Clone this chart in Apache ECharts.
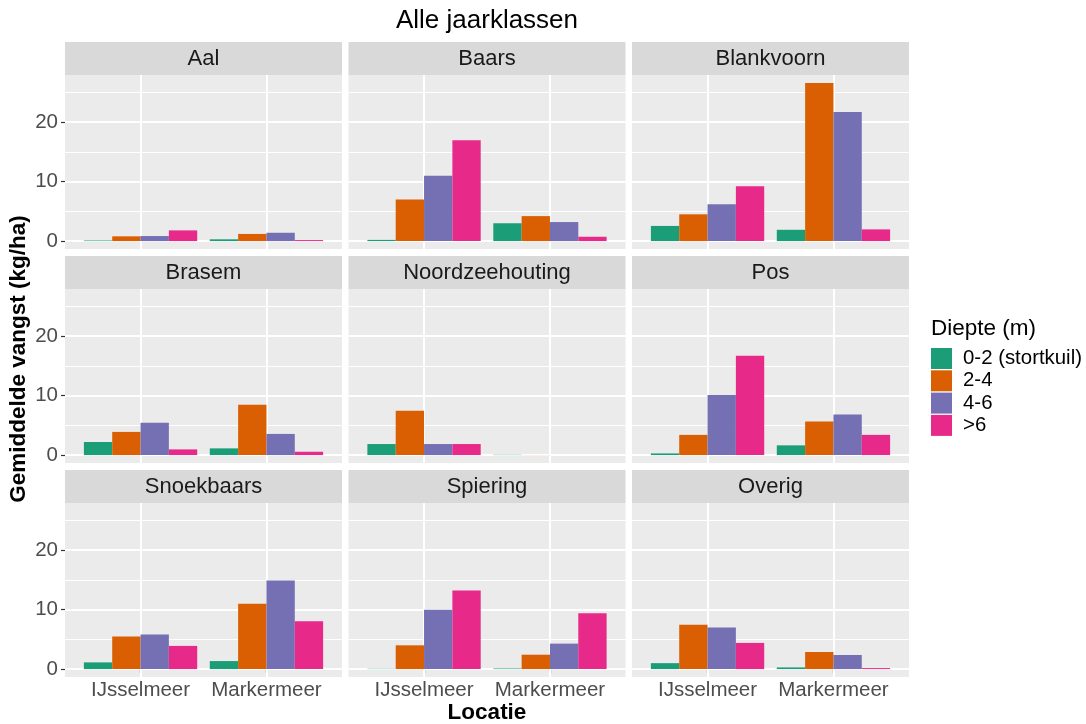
<!DOCTYPE html>
<html><head><meta charset="utf-8">
<script src="https://cdn.jsdelivr.net/npm/echarts@6/dist/echarts.min.js"></script>
<style>html,body{margin:0;padding:0;background:#fff}#chart{width:1086px;height:724px}</style>
</head><body><div id="chart"></div>
<script>
// ---------- data ----------
const species = ['Aal','Baars','Blankvoorn','Brasem','Noordzeehouting','Pos','Snoekbaars','Spiering','Overig'];
const locations = ['IJsselmeer','Markermeer'];
const depths = ['0-2 (stortkuil)','2-4','4-6','>6'];
// each entry: [IJsselmeer, Markermeer], species order as above
const depth02 = [[0.1,0.3],[0.2,3.0],[2.55,1.9],[2.2,1.13],[1.86,0.05],[0.28,1.64],[1.13,1.35],[0.05,0.1],[1.0,0.28]];
const depth24 = [[0.8,1.2],[7.0,4.2],[4.5,26.6],[3.9,8.47],[7.46,0.02],[3.4,5.65],[5.46,11.0],[4.0,2.42],[7.45,2.87]];
const depth46 = [[0.85,1.4],[11.0,3.2],[6.2,21.7],[5.42,3.56],[1.86,0],[10.1,6.84],[5.8,14.9],[9.97,4.28],[7.0,2.37]];
const depth6  = [[1.8,0.17],[16.96,0.73],[9.24,1.97],[0.96,0.56],[1.86,0],[16.7,3.4],[3.9,8.06],[13.2,9.4],[4.4,0.17]];
const yTicks = [0,10,20];
const yMinorTicks = [5,15,25];
const xTicks = [1,2];

// ---------- styling / layout ----------
const colors = ['#1B9E77','#D95F02','#7570B3','#E7298A'];
const FONT = 'Liberation Sans';
const colLeft = [65, 348.5, 632];
const rowTop = [75, 289, 503];
const PW = 277, PH = 174, STRIP = 33;

const depthValues = [depth02, depth24, depth46, depth6];
const maxVal = Math.max(...depthValues.flat(2));
const yMin = -0.05 * maxVal, yMax = 1.05 * maxVal;   // ggplot 5% expansion
const xMin = 0.4, xMax = locations.length + 0.6;      // ggplot discrete expansion

const grids = [], xAxes = [], yAxes = [], series = [], graphics = [];

species.forEach((sp, i) => {
  const r = Math.floor(i / 3), c = i % 3;
  const left = colLeft[c], top = rowTop[r];
  grids.push({left, top, width: PW, height: PH, show: true, backgroundColor: '#EBEBEB', borderWidth: 0, containLabel: false});
  xAxes.push({
    type: 'value', gridIndex: i, min: xMin, max: xMax,
    axisLine: {show: false}, splitLine: {show: false},
    axisTick: {show: r === 2, customValues: xTicks, length: 4, lineStyle: {color: '#333333', width: 1.2}},
    axisLabel: {show: r === 2, customValues: xTicks, margin: 3, fontSize: 20.5, color: '#4D4D4D', fontFamily: FONT,
      formatter: v => locations[Math.round(v) - 1] || ''}
  });
  yAxes.push({
    type: 'value', gridIndex: i, min: yMin, max: yMax,
    axisLine: {show: false}, splitLine: {show: false},
    axisTick: {show: c === 0, customValues: yTicks, length: 4, lineStyle: {color: '#333333', width: 1.2}},
    axisLabel: {show: c === 0, customValues: yTicks, margin: 7, fontSize: 20.5, color: '#4D4D4D', fontFamily: FONT}
  });
  // gridlines (behind bars)
  const ml = [];
  yTicks.forEach(v => ml.push({yAxis: v, lineStyle: {color: '#FFFFFF', width: 2, type: 'solid'}}));
  yMinorTicks.forEach(v => ml.push({yAxis: v, lineStyle: {color: '#FFFFFF', width: 1, type: 'solid'}}));
  xTicks.forEach(v => ml.push({xAxis: v, lineStyle: {color: '#FFFFFF', width: 2, type: 'solid'}}));
  series.push({
    type: 'scatter', xAxisIndex: i, yAxisIndex: i, data: [[1, 0]], symbolSize: 0, silent: true, z: 1,
    markLine: {silent: true, symbol: 'none', z: 1, animation: false, label: {show: false}, emphasis: {disabled: true}, data: ml}
  });
  depths.forEach((d, k) => {
    series.push({
      type: 'bar', name: d, xAxisIndex: i, yAxisIndex: i, z: 2,
      data: locations.map((loc, j) => [j + 1, depthValues[k][i][j]]),
      itemStyle: {color: colors[k]}, barGap: '0%', barCategoryGap: '10%', animation: false
    });
  });
  // strip
  graphics.push({type: 'rect', left: left, top: top - STRIP, shape: {width: PW, height: STRIP}, style: {fill: '#D9D9D9'}, silent: true});
  graphics.push({type: 'text', x: left + PW / 2, y: top - STRIP / 2 + 0.5, style: {text: sp, fill: '#1A1A1A', font: `22px "${FONT}"`, textAlign: 'center', textVerticalAlign: 'middle'}, silent: true});
});

graphics.push({type: 'text', x: 487, y: 21, style: {text: 'Alle jaarklassen', fill: '#000000', font: `26px "${FONT}"`, textAlign: 'center', textVerticalAlign: 'middle'}});
graphics.push({type: 'text', x: 487, y: 713, style: {text: 'Locatie', fill: '#000000', font: `bold 22.5px "${FONT}"`, textAlign: 'center', textVerticalAlign: 'middle'}});
graphics.push({type: 'text', x: 19, y: 359, rotation: Math.PI / 2, style: {text: 'Gemiddelde vangst (kg/ha)', fill: '#000000', font: `bold 22.5px "${FONT}"`, textAlign: 'center', textVerticalAlign: 'middle'}});
graphics.push({type: 'text', x: 931, y: 329, style: {text: 'Diepte (m)', fill: '#000000', font: `22.5px "${FONT}"`, textAlign: 'left', textVerticalAlign: 'middle'}});

const chart = echarts.init(document.getElementById('chart'), null, {renderer: 'canvas'});
chart.setOption({
  animation: false,
  backgroundColor: '#FFFFFF',
  grid: grids, xAxis: xAxes, yAxis: yAxes, series: series,
  legend: {
    data: depths, orient: 'vertical', left: 931, top: 348, padding: 0,
    itemWidth: 21, itemHeight: 21, itemGap: 1.3, icon: 'rect', selectedMode: false,
    textStyle: {fontSize: 20.4, color: '#000000', fontFamily: FONT, padding: [0, 0, 0, 6]}
  },
  graphic: graphics
});
</script></body></html>
